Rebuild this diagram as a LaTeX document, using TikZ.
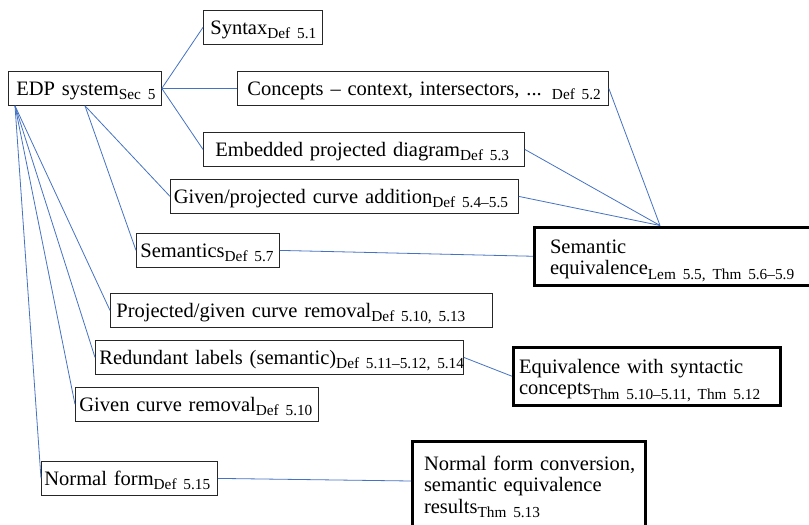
\documentclass[tikz,border=0pt]{standalone}
\usepackage{fontspec}
\setmainfont{Liberation Serif}
\definecolor{linkblue}{RGB}{68,114,196}
\newcommand\subs[1]{\raisebox{-4.5pt}{\fontsize{15.3}{16}\selectfont #1}}
\newcommand\oneline[1]{\mbox{#1}}
\newcommand\tallstrut[1]{\rule{0pt}{#1}}
\newcommand\deepstrut[1]{\rule[-#1]{0pt}{0pt}}
\begin{document}
\begin{tikzpicture}[x=1pt,y=-1pt,
  box/.style={draw=black!85, line width=0.8pt, anchor=north west, inner ysep=0pt,
    text height=24pt, text depth=10pt, align=left, font=\fontsize{20.5}{21.5}\selectfont},
  bigbox/.style={draw=black, line width=3pt, anchor=north west, inner ysep=0pt,
    align=left, font=\fontsize{20.5}{21.5}\selectfont},
  link/.style={draw=linkblue, line width=0.8pt}]
\useasboundingbox (0,0) rectangle (809,525);
\clip (0,0) rectangle (809,525);

% thin boxes
\node[box, inner xsep=8pt, text width=137pt] (edp) at (8,71) {\oneline{EDP system\subs{Sec 5}}};
\node[box, inner xsep=7pt, text width=105pt] (syn) at (203,10) {\oneline{Syntax\subs{Def 5.1}}};
\node[box, inner xsep=10pt, text width=351pt] (con) at (237,71) {\oneline{Concepts -- context, intersectors, ... \subs{Def 5.2}}};
\node[box, inner xsep=12pt, text width=297pt] (emb) at (203,132) {\oneline{Embedded projected diagram\subs{Def 5.3}}};
\node[box, inner xsep=3.5pt, text width=341pt] (gpa) at (170,179) {\oneline{Given/projected curve addition\subs{Def 5.4--5.5}}};
\node[box, inner xsep=4pt, text width=135pt] (sem) at (136,233) {\oneline{Semantics\subs{Def 5.7}}};
\node[box, inner xsep=6pt, text width=370pt] (pgr) at (110,293) {\oneline{Projected/given curve removal\subs{Def 5.10, 5.13}}};
\node[box, inner xsep=4pt, text width=360pt] (red) at (95,340) {\oneline{Redundant labels (semantic)\subs{Def 5.11--5.12, 5.14}}};
\node[box, inner xsep=4pt, text width=235pt] (gcr) at (75,387) {\oneline{Given curve removal\subs{Def 5.10}}};
\node[box, inner xsep=3pt, text width=170pt] (nf) at (41,461) {\oneline{Normal form\subs{Def 5.15}}};

% thick boxes
\node[bigbox, inner xsep=15.5pt, text width=283pt] (seq) at (533,225.5)
  {\oneline{\tallstrut{26pt}Semantic}\\\oneline{equivalence\subs{Lem 5.5, Thm 5.6--5.9}\deepstrut{11pt}}};
\node[bigbox, inner xsep=5.5pt, text width=256pt] (eqs) at (512,345.5)
  {\oneline{\tallstrut{26.3pt}Equivalence with syntactic}\\\oneline{concepts\subs{Thm 5.10--5.11, Thm 5.12}\deepstrut{10.7pt}}};
\node[bigbox, inner xsep=11.5pt, text width=210pt] (nfc) at (411,440)
  {\oneline{\tallstrut{28.5pt}Normal form conversion,}\\\oneline{semantic equivalence}\\\oneline{results\subs{Thm 5.13}\deepstrut{25pt}}};

% connector end points
\coordinate (fa) at ([xshift=7pt]edp.south west);
\coordinate (fb) at ([xshift=77pt]edp.south west);
\coordinate (sq) at ([xshift=127pt]seq.north west);
\coordinate (nfcin) at ([yshift=-41pt]nfc.north west);

% connectors
\draw[link] (edp.east) -- (syn.west);
\draw[link] (edp.east) -- (con.west);
\draw[link] (edp.east) -- (emb.west);
\draw[link] (fb) -- (gpa.west);
\draw[link] (fb) -- (sem.west);
\draw[link] (fa) -- (pgr.west);
\draw[link] (fa) -- (red.west);
\draw[link] (fa) -- (gcr.west);
\draw[link] (fa) -- (nf.west);
\draw[link] (con.east) -- (sq);
\draw[link] (emb.east) -- (sq);
\draw[link] (gpa.east) -- (sq);
\draw[link] (sem.east) -- (seq.west);
\draw[link] (red.east) -- (eqs.west);
\draw[link] (nf.east) -- (nfcin);
\end{tikzpicture}
\end{document}
